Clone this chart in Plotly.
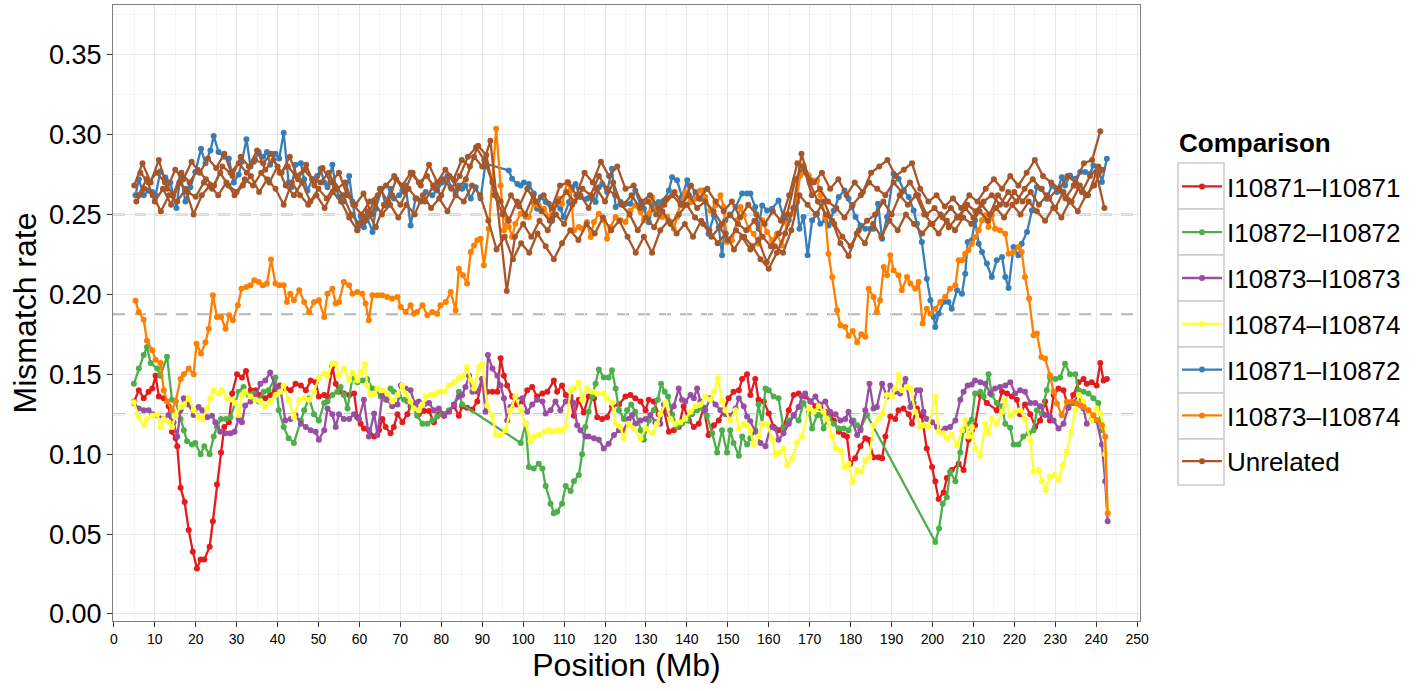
import plotly.graph_objects as go

# ---- Series: position (Mb) and mismatch rate, one pair of lists per comparison ----
red_x = [5.0, 6.1, 7.3, 8.5, 9.4, 10.2, 11.0, 12.2, 13.4, 14.2, 15.1, 15.5, 16.3, 17.3, 18.3, 19.3, 20.3, 21.2, 22.1, 23.4,
         24.2, 25.2, 26.2, 27.0, 28.1, 28.9, 30.1, 31.3, 32.3, 33.4, 34.6, 35.8, 37.0, 38.2, 39.4, 40.6,
         42.0, 43.2, 44.4, 45.7, 46.9, 48.1, 49.3, 50.1, 51.4, 52.2, 53.4, 54.2, 55.0, 56.2, 57.5, 58.7, 59.5, 60.3, 61.1, 62.3,
         63.6, 64.8, 65.6, 66.4, 67.6, 68.4, 69.3, 70.5, 71.7, 72.5, 73.3, 74.5, 75.8, 77.0, 78.2, 79.4, 80.7, 81.9, 83.1, 84.3,
         85.1, 86.3, 87.6, 88.8, 90.0, 91.2, 92.5, 93.7, 94.5, 95.3, 96.1, 97.3, 98.5, 99.8, 101.0, 102.2, 103.4, 104.7, 105.9,
         107.5, 108.3, 109.5, 110.4, 111.6, 112.4, 113.6, 114.8, 116.0, 117.3, 118.1, 119.3, 120.5, 121.7, 123.4,
         125.0, 126.2, 127.4, 128.7, 129.9, 130.7, 131.9, 133.1, 134.4, 135.6, 136.8, 138.0, 139.2, 140.5, 141.7, 142.9, 144.1,
         145.3, 146.6, 147.8, 149.0, 150.2, 151.4, 152.7, 153.5, 154.7, 155.5, 156.7, 157.5, 158.8, 160.0, 161.2, 162.4, 163.6,
         164.9, 166.1,
         167.3, 168.9, 170.2, 171.4, 172.6, 173.8, 175.0, 175.9, 177.1, 178.3, 179.1, 179.9, 181.1, 182.4, 183.6, 184.4, 185.6,
         186.8, 187.7, 188.5, 189.7, 190.9, 191.7, 192.9, 194.2, 195.0, 196.2, 197.4, 198.6, 199.9, 200.7, 201.5, 202.7, 203.5,
         204.7, 206.4, 207.6, 208.8, 209.6,
         210.4, 211.7, 213.3, 215.7, 217.0, 218.2, 219.4, 220.6, 221.4, 222.6, 223.9, 225.1, 226.3, 227.5, 228.7, 229.6, 230.8,
         232.0, 233.2, 234.4, 235.7, 236.9, 237.7, 238.9, 240.1, 241.0, 241.8, 242.6]
red_y = [0.133, 0.140, 0.135, 0.139, 0.141, 0.149, 0.136, 0.135, 0.130, 0.114, 0.110, 0.105, 0.079, 0.070, 0.0525, 0.039, 0.0285, 0.034, 0.034, 0.042,
         0.058, 0.081, 0.101, 0.117, 0.120, 0.138, 0.150, 0.148, 0.152, 0.140, 0.140, 0.137, 0.135, 0.137, 0.140, 0.143,
         0.141, 0.140, 0.144, 0.143, 0.140, 0.146, 0.145, 0.136, 0.137, 0.136, 0.155, 0.144, 0.139, 0.138, 0.137, 0.138, 0.123, 0.119, 0.116, 0.115,
         0.111, 0.115, 0.122, 0.117, 0.113, 0.117, 0.125, 0.120, 0.125, 0.130, 0.132, 0.125, 0.127, 0.127, 0.120, 0.125, 0.124, 0.127, 0.130, 0.124,
         0.130, 0.129, 0.128, 0.133, 0.147, 0.139, 0.139, 0.139, 0.160, 0.149, 0.143, 0.136, 0.131, 0.133, 0.140, 0.142, 0.136, 0.138, 0.139,
         0.146, 0.139, 0.143, 0.137, 0.134, 0.124, 0.134, 0.126, 0.136, 0.135, 0.123, 0.122, 0.123, 0.130, 0.131,
         0.136, 0.137, 0.135, 0.133, 0.1275, 0.134, 0.133, 0.125, 0.1275, 0.114, 0.115, 0.117, 0.130, 0.121, 0.117, 0.119, 0.129,
         0.112, 0.118, 0.121, 0.1275, 0.135, 0.139, 0.140, 0.147, 0.150, 0.137, 0.147, 0.134, 0.133, 0.1255, 0.117, 0.115, 0.117,
         0.1275, 0.137,
         0.138, 0.136, 0.133, 0.130, 0.129, 0.1265, 0.125, 0.121, 0.114, 0.112, 0.111, 0.094, 0.0975, 0.105, 0.110, 0.109, 0.098,
         0.098, 0.0975, 0.111, 0.1235, 0.122, 0.1275, 0.1285, 0.125, 0.119, 0.1285, 0.124, 0.1035, 0.092, 0.083, 0.072, 0.076, 0.085,
         0.090, 0.094, 0.090, 0.109, 0.115,
         0.118, 0.137, 0.132, 0.1275, 0.139, 0.138, 0.136, 0.134, 0.125, 0.131, 0.125, 0.117, 0.121, 0.133, 0.121, 0.137, 0.141,
         0.140, 0.129, 0.137, 0.145, 0.147, 0.144, 0.145, 0.143, 0.157, 0.146, 0.147]

green_x = [4.9, 6.1, 7.3, 8.1, 9.0, 10.6, 11.4, 13.0, 14.2, 15.1, 16.3, 17.1, 17.9, 19.1, 19.9, 21.2, 22.1, 23.4, 24.4, 25.2,
           26.2, 27.4, 28.5, 30.5, 31.7, 33.0, 34.2, 35.4, 36.6, 37.8, 39.5, 40.3, 41.5,
           42.7, 44.0, 45.7, 46.5, 47.7, 48.9, 50.1, 51.4, 52.2, 53.4, 54.6, 55.4, 56.2, 57.1, 58.3, 59.5, 60.7, 61.9, 63.2, 64.0,
           65.2, 66.4, 67.6, 68.4, 69.7, 70.9, 71.7, 72.9, 74.1, 75.4, 76.6, 77.8, 79.0, 80.2, 81.9, 83.1, 84.3,
           85.1, 99.4, 100.6, 101.4, 102.6, 103.8, 104.7, 105.5, 106.7, 107.5, 108.3, 109.5, 110.4, 111.6, 112.4, 113.6, 114.4,
           115.2, 116.0, 116.9, 117.7, 118.5, 119.7, 120.9, 121.7, 122.6, 123.4, 124.6,
           125.4, 126.4, 127.4, 128.7, 129.5, 130.7, 131.9, 132.9, 133.7, 134.6, 135.4, 136.4, 137.6, 138.8, 140.1, 141.3, 142.5,
           143.9, 144.9, 146.2, 147.4, 148.6, 149.8, 150.6, 151.4, 152.7, 153.5, 154.7, 155.5, 156.7, 157.5, 158.4, 159.2, 160.0,
           161.2, 162.4, 163.6, 164.9, 166.1, 167.3,
           168.5, 169.8, 170.6, 171.8, 172.6, 173.4, 174.6, 175.9, 177.1, 178.3, 179.5, 180.7, 181.6, 182.4, 184.0,
           200.7, 201.6, 202.5, 203.5, 204.3, 205.6, 206.8, 207.6, 208.8,
           209.6, 210.4, 211.7, 212.5, 213.7, 214.5, 215.7, 217.0, 217.8, 219.0, 219.8, 221.0, 222.2, 223.5, 224.7, 225.5, 226.7,
           227.9, 228.7, 230.0, 231.2, 232.4, 233.6, 234.9, 235.7, 236.9, 238.1, 239.3, 240.5, 241.4]
green_y = [0.144, 0.1535, 0.162, 0.167, 0.157, 0.1535, 0.149, 0.161, 0.134, 0.133, 0.122, 0.115, 0.108, 0.106, 0.107, 0.100, 0.105, 0.100, 0.111, 0.117,
           0.122, 0.122, 0.123, 0.139, 0.142, 0.137, 0.138, 0.133, 0.139, 0.140, 0.148, 0.1275, 0.117,
           0.110, 0.107, 0.121, 0.1275, 0.135, 0.125, 0.121, 0.132, 0.133, 0.137, 0.139, 0.142, 0.137, 0.1285, 0.148, 0.145, 0.146, 0.147, 0.141, 0.140,
           0.136, 0.134, 0.141, 0.139, 0.136, 0.134, 0.133, 0.130, 0.124, 0.119, 0.119, 0.121, 0.1235, 0.1255, 0.1275, 0.131, 0.139,
           0.131, 0.107, 0.119, 0.092, 0.091, 0.094, 0.091, 0.080, 0.069, 0.063, 0.064, 0.069, 0.080, 0.077, 0.083, 0.087, 0.100,
           0.117, 0.1265, 0.136, 0.144, 0.153, 0.148, 0.148, 0.1525, 0.141, 0.1275, 0.122,
           0.1275, 0.131, 0.1265, 0.115, 0.109, 0.121, 0.1275, 0.134, 0.144, 0.139, 0.136, 0.125, 0.117, 0.119, 0.121, 0.125, 0.1275,
           0.1285, 0.124, 0.113, 0.101, 0.115, 0.101, 0.115, 0.107, 0.099, 0.111, 0.106, 0.110, 0.115, 0.131, 0.119, 0.141, 0.140,
           0.136, 0.135, 0.116, 0.121, 0.124, 0.121,
           0.132, 0.1265, 0.116, 0.1245, 0.1245, 0.116, 0.123, 0.119, 0.116, 0.116, 0.115, 0.121, 0.118, 0.116, 0.1245,
           0.045, 0.0535, 0.069, 0.073, 0.089, 0.083, 0.101, 0.115, 0.119,
           0.1215, 0.138, 0.139, 0.136, 0.150, 0.137, 0.132, 0.130, 0.119, 0.1165, 0.106, 0.106, 0.111, 0.113, 0.115, 0.1275, 0.1255,
           0.140, 0.148, 0.147, 0.148, 0.1565, 0.150, 0.150, 0.140, 0.139, 0.138, 0.135, 0.132, 0.115]

purple_x = [4.9, 6.1, 7.3, 8.5, 9.4, 10.6, 12.2, 13.4, 14.6, 15.5, 16.3, 17.1, 18.3, 19.5, 20.7, 21.6, 22.8, 24.0, 24.8, 26.0,
            27.3, 28.5, 29.5, 30.5, 31.3, 32.1, 33.4, 34.6, 35.8, 37.0, 38.2, 39.5, 40.7, 41.9,
            43.2, 44.4, 45.7, 46.9, 48.1, 49.3, 50.1, 51.4, 52.2, 53.4, 54.2, 55.0, 56.2, 57.5, 58.7, 59.9, 61.1, 62.3, 63.6, 64.4,
            65.6, 66.8, 68.0, 69.3, 70.1, 71.3, 72.5, 73.7, 74.5, 75.8, 77.0, 78.2, 79.4, 80.7, 81.9, 83.1, 84.3,
            85.1, 85.9, 86.8, 87.6, 88.8, 90.0, 90.8, 91.4, 92.5, 93.7, 94.5, 95.3, 96.1, 96.9, 98.1, 99.8, 101.0, 102.2, 103.4,
            104.7, 105.5, 106.7, 107.9, 109.1, 110.4, 111.6, 112.4, 113.2, 114.0, 115.2, 116.0, 117.3, 118.5, 119.7, 120.9, 122.2,
            123.4, 124.6,
            125.8, 126.6, 127.4, 128.7, 129.9, 131.1, 132.3, 133.5, 134.4, 135.6, 136.8, 138.0, 138.8, 139.6, 140.9, 141.7, 142.5,
            143.3, 144.5, 145.7, 147.0, 148.2, 149.4, 150.6, 151.9, 152.7, 153.9, 154.7, 155.5, 156.7, 158.0, 159.2, 160.4, 161.6,
            162.4, 163.6, 164.9, 166.1, 167.3,
            168.1, 168.9, 170.2, 171.4, 172.6, 173.8, 175.0, 176.3, 177.5, 178.7, 179.5, 180.3, 181.6, 182.4, 183.6, 184.6, 185.6,
            186.4, 187.7, 188.9, 189.7, 190.9, 192.1, 193.4, 194.6, 195.4, 196.2, 197.0, 197.8, 198.6, 199.9, 201.1, 202.3, 203.1,
            204.3, 205.6, 206.8, 207.6, 208.6,
            209.6, 210.4, 211.7, 212.9, 214.1, 215.3, 216.5, 217.8, 219.0, 220.2, 221.4, 222.6, 223.9, 225.1, 226.3, 227.5, 228.7,
            229.6, 230.8, 232.0, 233.2, 234.4, 235.7, 236.9, 237.7, 238.9, 240.1, 241.4, 242.2, 242.8]
purple_y = [0.132, 0.1285, 0.1275, 0.1275, 0.125, 0.1245, 0.122, 0.1245, 0.120, 0.111, 0.1275, 0.135, 0.131, 0.1245, 0.1295, 0.1275, 0.123, 0.124, 0.120, 0.114,
            0.113, 0.113, 0.114, 0.122, 0.120, 0.1305, 0.133, 0.136, 0.144, 0.146, 0.151, 0.142, 0.141, 0.121,
            0.122, 0.1245, 0.119, 0.117, 0.115, 0.114, 0.109, 0.115, 0.1285, 0.125, 0.117, 0.125, 0.122, 0.122, 0.125, 0.122, 0.134, 0.111, 0.1255, 0.112,
            0.137, 0.134, 0.130, 0.131, 0.143, 0.141, 0.140, 0.130, 0.133, 0.131, 0.132, 0.1275, 0.1285, 0.124, 0.1265, 0.131, 0.136,
            0.137, 0.142, 0.149, 0.139, 0.139, 0.147, 0.1265, 0.162, 0.1535, 0.149, 0.143, 0.135, 0.121, 0.1295, 0.135, 0.135, 0.1265, 0.131, 0.134,
            0.133, 0.1255, 0.1275, 0.133, 0.1275, 0.133, 0.136, 0.132, 0.118, 0.115, 0.111, 0.111, 0.110, 0.109, 0.1035, 0.1065, 0.112,
            0.115, 0.115,
            0.122, 0.1245, 0.119, 0.121, 0.122, 0.1245, 0.120, 0.119, 0.131, 0.125, 0.130, 0.141, 0.134, 0.133, 0.137, 0.135, 0.141,
            0.133, 0.1275, 0.135, 0.131, 0.1275, 0.125, 0.124, 0.1285, 0.135, 0.130, 0.1235, 0.1205, 0.114, 0.107, 0.105, 0.117, 0.116,
            0.109, 0.113, 0.119, 0.1245, 0.1295,
            0.136, 0.138, 0.133, 0.136, 0.131, 0.133, 0.1265, 0.125, 0.121, 0.122, 0.1265, 0.1205, 0.112, 0.115, 0.1275, 0.144, 0.1285,
            0.1295, 0.144, 0.136, 0.143, 0.139, 0.138, 0.147, 0.1295, 0.132, 0.140, 0.140, 0.1265, 0.122, 0.120, 0.117, 0.114, 0.116,
            0.117, 0.121, 0.134, 0.139, 0.143,
            0.1435, 0.146, 0.145, 0.144, 0.138, 0.141, 0.142, 0.143, 0.145, 0.138, 0.140, 0.139, 0.132, 0.132, 0.130, 0.1245, 0.1235,
            0.121, 0.116, 0.119, 0.1295, 0.132, 0.137, 0.1285, 0.119, 0.122, 0.121, 0.106, 0.083, 0.058]

yellow_x = [4.9, 6.1, 7.3, 8.1, 9.4, 10.6, 11.4, 12.2, 13.4, 14.2, 15.1, 16.3, 17.1, 18.3, 19.5, 20.7, 21.6, 22.8, 23.6, 24.4,
            25.6, 26.4, 27.7, 28.9, 29.7, 30.5, 31.3, 32.1, 33.4, 34.6, 35.8, 37.0, 38.2, 39.5, 40.7, 41.5,
            42.7, 44.0, 45.3, 46.5, 47.7, 48.9, 50.1, 51.4, 52.2, 53.4, 54.2, 55.0, 56.2, 57.5, 58.3, 59.5, 60.3, 61.4, 61.9, 62.7,
            63.6, 64.4, 65.6, 66.8, 68.0, 69.3, 70.5, 71.3, 72.5, 73.3, 74.5, 75.4, 76.2, 77.4, 78.2, 79.4, 80.7, 81.9, 83.1, 84.3,
            85.1, 86.3, 87.2, 88.0, 89.2, 90.0, 91.2, 92.5, 93.3, 94.5, 95.7, 96.9, 98.1, 99.4, 100.6, 101.8, 102.6, 103.8, 105.1,
            106.3, 107.1, 108.3, 109.5, 110.4, 111.6, 112.4, 113.6, 114.4, 115.6, 116.9, 118.1, 119.7, 120.5, 121.7, 122.6, 123.8,
            124.6,
            125.8, 127.0, 128.7, 129.9, 131.5, 132.7, 133.5, 134.8, 136.0, 137.2, 138.4, 139.6, 140.9, 142.1, 143.3, 144.5, 145.7,
            146.6, 147.6, 148.6, 149.4, 150.6, 151.9, 152.7, 153.9, 154.7, 155.5, 156.3, 157.5, 158.4, 159.6, 160.8, 161.6, 162.4,
            163.6, 164.5, 165.7, 166.9,
            168.1, 169.8, 171.0, 172.2, 173.4, 174.2, 175.5, 176.3, 177.5, 178.5, 179.5, 180.5, 181.6, 182.6, 183.6, 184.6, 185.6,
            186.8, 187.8, 188.9, 190.1, 190.9, 191.7, 192.5, 193.8, 194.6, 195.8, 197.0, 197.8, 199.0, 200.7, 201.5, 202.7, 203.5,
            204.7, 206.0, 207.2,
            208.0, 208.8, 209.6, 210.4, 211.7, 212.9, 213.7, 214.5, 215.7, 217.0, 217.8, 219.0, 220.2, 221.4, 222.6, 223.9, 224.7,
            225.9, 226.7, 227.7, 228.7, 229.8, 230.8, 231.8, 232.8, 233.9, 234.9, 235.8, 236.9, 238.1, 238.9, 240.1, 241.0, 241.8,
            242.2, 242.8]
yellow_y = [0.1325, 0.123, 0.118, 0.122, 0.124, 0.125, 0.117, 0.122, 0.120, 0.117, 0.1245, 0.1295, 0.131, 0.135, 0.1275, 0.123, 0.122, 0.1285, 0.135, 0.140,
            0.138, 0.140, 0.135, 0.134, 0.132, 0.1245, 0.137, 0.139, 0.136, 0.134, 0.133, 0.1295, 0.133, 0.137, 0.139, 0.143,
            0.134, 0.123, 0.134, 0.135, 0.134, 0.139, 0.148, 0.1505, 0.149, 0.1565, 0.1565, 0.149, 0.1535, 0.146, 0.151, 0.146, 0.151, 0.1565, 0.143, 0.137,
            0.138, 0.141, 0.140, 0.138, 0.133, 0.137, 0.143, 0.138, 0.133, 0.1285, 0.1275, 0.131, 0.136, 0.137, 0.137, 0.139, 0.139, 0.143, 0.145, 0.1475,
            0.1485, 0.1545, 0.1465, 0.141, 0.1545, 0.1565, 0.1305, 0.124, 0.112, 0.112, 0.115, 0.1275, 0.136, 0.1275, 0.119, 0.108, 0.111, 0.112, 0.114,
            0.115, 0.114, 0.115, 0.115, 0.117, 0.140, 0.141, 0.145, 0.134, 0.141, 0.139, 0.138, 0.138, 0.135, 0.132, 0.119, 0.117,
            0.110,
            0.119, 0.116, 0.110, 0.116, 0.113, 0.119, 0.125, 0.132, 0.122, 0.119, 0.120, 0.122, 0.1265, 0.130, 0.131, 0.136, 0.134,
            0.139, 0.1475, 0.133, 0.1275, 0.121, 0.1275, 0.116, 0.119, 0.118, 0.115, 0.106, 0.111, 0.119, 0.119, 0.110, 0.100, 0.101,
            0.1035, 0.093, 0.097, 0.1075,
            0.111, 0.1285, 0.1265, 0.130, 0.1265, 0.122, 0.111, 0.1035, 0.1025, 0.092, 0.094, 0.0825, 0.090, 0.089, 0.096, 0.098, 0.118,
            0.122, 0.1255, 0.137, 0.136, 0.141, 0.1495, 0.140, 0.142, 0.141, 0.1265, 0.117, 0.118, 0.1175, 0.136, 0.114, 0.113, 0.110,
            0.112, 0.1055, 0.115,
            0.1215, 0.111, 0.117, 0.1035, 0.099, 0.119, 0.113, 0.122, 0.119, 0.1265, 0.134, 0.124, 0.1265, 0.1275, 0.122, 0.1085, 0.089,
            0.090, 0.083, 0.0775, 0.086, 0.087, 0.084, 0.093, 0.1015, 0.114, 0.1275, 0.137, 0.133, 0.1275, 0.121, 0.1285, 0.1255, 0.117,
            0.100, 0.064]

blue_x = [5.3, 6.1, 7.3, 8.5, 9.4, 10.2, 11.4, 12.6, 13.8, 15.3, 16.3, 17.5, 18.7, 19.9, 21.3, 22.4, 23.6, 24.4, 25.6, 26.9,
          28.1, 29.3, 30.5, 31.3, 32.4, 33.4, 34.2, 35.4, 36.5, 37.4, 38.2, 39.5, 40.4, 41.5, 42.7, 43.4,
          44.4, 45.7, 46.5, 47.3, 48.5, 49.7, 50.5, 51.4, 52.2, 53.4, 54.2, 55.0, 56.2, 57.5, 58.3, 59.5, 60.3, 61.1, 61.9, 63.2,
          64.0, 65.4, 66.4, 67.6, 68.4, 69.7, 70.5, 71.3, 72.5, 73.7, 75.0, 76.2, 77.8, 79.0, 80.2, 81.5, 82.3, 83.5, 84.3,
          85.1, 85.9, 87.2, 88.4, 89.6, 90.8, 96.5, 97.3, 98.6, 99.4, 100.2, 101.4, 102.6, 103.4, 104.3, 105.5, 106.3, 107.1,
          107.9, 109.1, 109.9, 111.2, 112.0, 112.8, 114.0, 115.6, 116.9, 117.7, 118.5, 119.3, 120.5, 121.7, 122.6, 123.8, 125.0,
          126.2, 127.4, 128.7, 129.5, 130.7, 131.9, 133.1, 134.4, 135.6, 136.4, 137.6, 138.8, 140.1, 140.9, 142.1, 143.3, 144.1,
          145.3, 146.6, 147.8, 148.6, 149.4, 150.6, 151.9, 153.5, 154.7, 155.5, 156.7, 157.5, 158.4, 159.6, 160.8, 162.4, 163.6,
          164.9, 166.1, 166.9,
          167.5, 168.5, 169.5, 170.6, 171.8, 172.6, 173.8, 174.6, 175.9, 177.1, 178.5, 179.5, 180.3, 181.2, 182.4, 183.6, 184.8,
          185.6, 186.7, 187.7, 188.9, 190.5, 191.7, 193.0, 194.2, 195.4, 196.2, 197.4, 198.6, 199.5, 200.3, 200.7, 201.5, 202.7,
          203.9, 204.7, 206.0, 207.2, 208.0, 208.6,
          209.6, 210.4, 211.3, 212.1, 213.3, 214.5, 215.7, 217.0, 217.8, 218.6, 219.8, 221.0, 221.8, 223.1, 224.3, 225.5, 226.7,
          227.9, 229.2, 230.4, 231.6, 232.4, 233.6, 234.9, 236.1, 237.3, 238.5, 239.3, 240.5, 241.4, 242.6]
blue_y = [0.262, 0.272, 0.262, 0.265, 0.264, 0.262, 0.277, 0.273, 0.270, 0.254, 0.275, 0.258, 0.267, 0.2765, 0.291, 0.282, 0.290, 0.299, 0.289, 0.286,
          0.285, 0.270, 0.275, 0.283, 0.297, 0.280, 0.283, 0.289, 0.286, 0.289, 0.281, 0.288, 0.285, 0.301, 0.270, 0.267,
          0.281, 0.282, 0.272, 0.265, 0.272, 0.274, 0.2785, 0.270, 0.267, 0.281, 0.267, 0.261, 0.258, 0.274, 0.258, 0.240, 0.249, 0.242, 0.248, 0.239,
          0.2535, 0.266, 0.2556, 0.266, 0.260, 0.262, 0.265, 0.268, 0.243, 0.260, 0.258, 0.264, 0.262, 0.265, 0.270, 0.274, 0.267, 0.264, 0.268,
          0.266, 0.268, 0.260, 0.267, 0.260, 0.2817, 0.2775, 0.2723, 0.269, 0.268, 0.270, 0.269, 0.263, 0.2535, 0.2608, 0.2577, 0.2567, 0.246,
          0.2567, 0.2535, 0.2483, 0.2577, 0.267, 0.269, 0.2608, 0.2598, 0.2598, 0.2577, 0.267, 0.269, 0.264, 0.2785, 0.2546, 0.2577, 0.2567,
          0.2567, 0.265, 0.2556, 0.2535, 0.245, 0.2567, 0.2577, 0.2587, 0.265, 0.2733, 0.2713, 0.2608, 0.2713, 0.2577, 0.264, 0.2598, 0.265,
          0.2379, 0.2494, 0.242, 0.2244, 0.2463, 0.2494, 0.2546, 0.263, 0.263, 0.263, 0.2546, 0.241, 0.2556, 0.2525, 0.2535, 0.2587, 0.2483,
          0.2463, 0.2535, 0.2577,
          0.241, 0.2483, 0.2244, 0.2463, 0.2504, 0.2442, 0.2463, 0.2431, 0.2525, 0.2608, 0.265, 0.2598, 0.2546, 0.2483, 0.2431, 0.241, 0.241,
          0.241, 0.2567, 0.2348, 0.2483, 0.2754, 0.2723, 0.265, 0.2608, 0.2525, 0.2442, 0.2327, 0.2098, 0.1962, 0.1858, 0.1796, 0.188, 0.1952,
          0.1952, 0.191, 0.2025, 0.2004, 0.2129, 0.2327,
          0.2338, 0.2463, 0.2317, 0.2265, 0.2192, 0.2108, 0.2213, 0.2233, 0.2108, 0.204, 0.2296, 0.2244, 0.2317, 0.239, 0.2525, 0.2671, 0.2661,
          0.2598, 0.2681, 0.264, 0.2733, 0.2681, 0.2744, 0.2723, 0.2765, 0.2765, 0.2754, 0.2806, 0.2796, 0.2702, 0.2848]

orange_x = [5.3, 6.1, 7.3, 8.1, 9.4, 10.2, 11.4, 12.2, 13.0, 14.2, 15.1, 16.3, 17.1, 18.3, 19.5, 20.2, 21.3, 22.4, 23.2, 24.2,
            25.2, 26.2, 27.3, 28.2, 29.1, 30.3, 31.2, 32.4, 33.4, 34.3, 35.4, 36.4, 37.4, 38.4, 39.5, 40.4, 41.5, 42.3,
            43.1, 44.0, 45.3, 46.5, 47.7, 48.9, 50.1, 51.4, 52.2, 53.4, 54.2, 55.0, 56.2, 57.5, 58.3, 59.5, 60.7, 61.5, 62.3, 63.2,
            64.4, 65.6, 66.8, 68.0, 69.3, 70.1, 71.3, 72.5, 73.3, 74.1, 75.4, 76.6, 77.8, 79.0, 79.8, 81.1, 82.3, 83.5,
            84.3, 85.3, 86.3, 87.2, 88.0, 88.8, 89.6, 90.4, 91.6, 92.5, 93.4, 94.5, 95.3, 96.1, 96.5, 97.3, 98.1, 99.4, 100.6,
            101.4, 102.6, 103.8, 105.1, 106.3, 107.5, 108.7, 109.5, 110.8, 111.6, 112.4, 113.6, 114.4, 115.6, 116.5, 117.3, 118.5,
            119.7, 120.5, 121.3, 122.6, 123.8, 125.0,
            126.2, 127.4, 128.7, 129.5, 130.7, 131.5, 132.7, 134.0, 135.2, 136.0, 136.8, 137.6, 138.4, 139.6, 140.9, 142.1, 143.3,
            144.5, 145.7, 147.0, 148.2, 149.0, 149.8, 151.0, 152.3, 153.1, 153.9, 155.1, 156.3, 157.5, 158.4, 159.6, 160.8, 162.0,
            163.2, 164.5, 165.7, 166.9,
            167.7, 168.5, 169.8, 170.6, 171.8, 172.6, 173.8, 174.6, 175.5, 176.7, 177.5, 178.7, 179.5, 180.5, 181.6, 182.6, 183.6,
            184.4, 185.6, 186.4, 187.2, 188.1, 188.9, 189.7, 190.5, 191.7, 192.5, 193.8, 194.6, 195.8, 196.6, 197.6, 198.6, 199.5,
            200.7, 201.9, 203.1, 204.3, 205.6, 206.4, 207.2, 208.0,
            208.8, 209.6, 210.4, 211.3, 212.1, 212.9, 213.7, 214.5, 215.3, 216.5, 217.8, 218.6, 219.8, 221.0, 221.8, 222.6, 223.6,
            224.7, 225.5, 226.6, 227.5, 228.7, 229.6, 230.4, 231.6, 232.8, 234.0, 235.3, 236.1, 236.9, 238.1, 239.3, 240.1, 241.4,
            242.2, 242.8]
orange_y = [0.196, 0.189, 0.184, 0.171, 0.165, 0.159, 0.157, 0.140, 0.133, 0.1275, 0.133, 0.147, 0.150, 0.1535, 0.150, 0.169, 0.163, 0.170, 0.1785, 0.1994,
            0.1858, 0.1858, 0.1785, 0.1869, 0.1838, 0.1931, 0.2035, 0.2046, 0.2056, 0.2088, 0.2077, 0.2056, 0.2067, 0.2217, 0.2067, 0.2056, 0.2056, 0.1952,
            0.2004, 0.1962, 0.2025, 0.1952, 0.189, 0.1952, 0.1962, 0.1858, 0.2004, 0.2035, 0.1942, 0.1952, 0.2077, 0.2056, 0.2004, 0.2015, 0.2004, 0.1942, 0.1838, 0.1994,
            0.1994, 0.1994, 0.1983, 0.1973, 0.1983, 0.1921, 0.189, 0.1931, 0.1879, 0.189, 0.1931, 0.1869, 0.189, 0.1879, 0.1931, 0.1952, 0.2015, 0.190,
            0.216, 0.2119, 0.2067, 0.2265, 0.2306, 0.2338, 0.2348, 0.2181, 0.241, 0.2713, 0.3035, 0.2681, 0.240, 0.2473, 0.2421, 0.2358, 0.2442, 0.2504, 0.2483,
            0.2483, 0.2567, 0.2556, 0.2535, 0.2483, 0.2556, 0.2598, 0.2567, 0.2702, 0.265, 0.240, 0.2421, 0.241, 0.2452, 0.2358, 0.2452, 0.2504,
            0.2463, 0.2348, 0.2421, 0.2483, 0.2463, 0.2452,
            0.2525, 0.2556, 0.2515, 0.2463, 0.2504, 0.2608, 0.2535, 0.2483, 0.2483, 0.2452, 0.241, 0.2483, 0.2567, 0.264, 0.2577, 0.2598, 0.265,
            0.2608, 0.2525, 0.2556, 0.2619, 0.2546, 0.2327, 0.2338, 0.2463, 0.2546, 0.2494, 0.241, 0.2379, 0.2317, 0.2463, 0.239, 0.2338, 0.2379,
            0.2306, 0.2442, 0.2504, 0.2608,
            0.2744, 0.2806, 0.2744, 0.2713, 0.2713, 0.2619, 0.2483, 0.2254, 0.2108, 0.190, 0.1806, 0.1796, 0.174, 0.177, 0.170, 0.175, 0.1735,
            0.2035, 0.1983, 0.189, 0.1962, 0.2171, 0.2119, 0.2244, 0.215, 0.2119, 0.2025, 0.2108, 0.2067, 0.2035, 0.2077, 0.1817, 0.191, 0.1879,
            0.191, 0.1952, 0.1983, 0.2035, 0.2056, 0.2213, 0.2213, 0.2254,
            0.2275, 0.2317, 0.2358, 0.240, 0.2463, 0.2494, 0.2421, 0.2494, 0.241, 0.240, 0.2379, 0.2254, 0.2265, 0.2296, 0.2265, 0.2108, 0.1973,
            0.1744, 0.1754, 0.1608, 0.1598, 0.1494, 0.139, 0.1317, 0.1244, 0.1327, 0.1327, 0.1317, 0.1306, 0.1296, 0.1275, 0.1244, 0.1213, 0.1181,
            0.1108, 0.0629]

# Unrelated pairs: four comparisons sampled on 2-Mb windows with staggered starts
# (None marks a window without data; the line is joined across it)
unrel_start = [5.0, 6.0, 5.5, 6.5]
unrel_a = [0.268, 0.282, 0.270, 0.284, 0.266, 0.278, 0.272, 0.283, 0.276, 0.285, 0.279, 0.288, 0.274, 0.286, 0.280, 0.290,
           0.278, 0.284, 0.276, 0.286, 0.272, 0.281, 0.268, 0.279, 0.270, 0.276, 0.262, 0.256, 0.263, 0.250, 0.266, 0.258,
           0.272, 0.264, 0.276, 0.268, 0.281, 0.270, 0.278, 0.272, 0.284, 0.280, 0.293, 0.287, 0.262, 0.250, 0.262, 0.255,
           0.266, 0.258, 0.262, 0.254, 0.268, 0.270, 0.262, 0.276, 0.270, 0.283, 0.274, 0.280, 0.266, 0.268, 0.258, 0.262,
           0.254, 0.260, 0.264, 0.256, 0.268, 0.260, 0.266, 0.258, 0.252, 0.258, 0.248, 0.256, 0.250, 0.244, 0.252, 0.246,
           0.262, 0.282, 0.276, 0.270, 0.276, 0.266, 0.272, 0.262, 0.270, 0.264, 0.276, 0.280, 0.284, 0.274, 0.278, 0.282,
           0.266, 0.258, 0.262, 0.255, 0.260, 0.254, 0.262, 0.258, 0.266, 0.272, 0.266, 0.274, 0.268, 0.276, 0.284, 0.274,
           0.270, 0.266, 0.274, 0.270, 0.282, 0.284, 0.302]
unrel_b = [0.262, 0.272, 0.258, 0.266, 0.256, 0.270, 0.264, 0.261, 0.270, 0.266, 0.276, 0.268, 0.264, 0.272, 0.268, 0.276,
           0.270, 0.280, 0.268, 0.262, 0.270, 0.258, 0.266, 0.260, 0.268, 0.262, 0.250, 0.244, 0.252, 0.242, 0.256, 0.262,
           0.256, 0.266, 0.260, 0.258, 0.268, 0.262, 0.274, 0.266, 0.272, 0.286, 0.280, 0.296, None, 0.202, 0.236, 0.244,
           0.236, 0.246, 0.240, 0.250, 0.244, 0.256, 0.262, 0.254, 0.266, 0.258, 0.270, 0.256, 0.250, 0.240, 0.248, 0.242,
           0.252, 0.244, 0.250, 0.256, 0.248, 0.244, 0.236, 0.242, 0.234, 0.240, 0.236, 0.230, 0.222, 0.216, 0.226, 0.238,
           0.254, 0.288, 0.270, 0.258, 0.250, 0.244, 0.236, 0.230, 0.240, 0.246, 0.250, 0.258, 0.250, 0.262, 0.256, 0.262,
           0.250, 0.244, 0.250, 0.242, 0.248, 0.254, 0.248, 0.256, 0.250, 0.262, 0.256, 0.264, 0.258, 0.264, 0.256, 0.262,
           0.254, 0.264, 0.258, 0.268, 0.262, 0.276, 0.254]
unrel_c = [0.258, 0.266, 0.262, 0.252, 0.262, 0.258, 0.266, 0.250, 0.262, 0.268, 0.262, 0.270, 0.262, 0.268, 0.274, 0.264,
           0.272, 0.266, 0.256, 0.270, 0.262, 0.256, 0.262, 0.254, 0.264, 0.258, 0.248, 0.240, 0.246, 0.258, 0.250, 0.256,
           0.248, 0.256, 0.250, 0.262, 0.254, 0.260, 0.252, 0.262, 0.258, 0.268, 0.262, 0.246, 0.228, 0.236, 0.222, 0.232,
           0.226, 0.238, 0.230, 0.222, 0.232, 0.240, 0.234, 0.244, 0.238, 0.248, 0.240, 0.246, 0.236, 0.226, 0.236, 0.226,
           0.240, 0.246, 0.238, 0.244, 0.236, 0.246, 0.240, 0.232, 0.238, 0.228, 0.236, 0.228, 0.234, 0.220, 0.230, 0.226,
           0.240, 0.262, 0.256, 0.250, 0.258, 0.246, 0.232, 0.224, 0.238, 0.232, 0.244, 0.236, 0.246, 0.240, 0.250, 0.244,
           0.238, 0.244, 0.238, 0.246, 0.240, 0.248, 0.244, 0.252, 0.246, 0.254, 0.248, 0.256, 0.250, 0.258, 0.252, 0.246,
           0.254, 0.248, 0.258, 0.252, 0.262, 0.268, 0.278]
unrel_d = [0.276, 0.270, 0.276, 0.270, 0.262, 0.276, 0.270, 0.278, 0.272, 0.268, 0.280, 0.276, 0.282, 0.276, 0.284, 0.282,
           0.288, 0.276, 0.280, 0.274, 0.278, 0.272, 0.270, 0.276, 0.266, 0.270, 0.256, 0.250, 0.258, 0.262, 0.268, 0.274,
           0.268, 0.276, 0.270, 0.274, 0.266, 0.272, 0.266, 0.274, 0.286, 0.292, 0.284, 0.270, 0.258, 0.246, 0.258, 0.250,
           0.262, 0.252, 0.246, 0.258, 0.264, 0.258, 0.266, 0.262, 0.274, 0.266, 0.262, 0.256, 0.262, 0.254, 0.258, 0.250,
           0.256, 0.262, 0.256, 0.262, 0.254, 0.258, 0.252, 0.244, 0.250, 0.244, 0.240, 0.246, 0.236, 0.230, 0.238, 0.250,
           0.272, 0.280, 0.262, 0.266, 0.258, 0.254, 0.248, 0.256, 0.262, 0.270, 0.266, 0.262, 0.270, 0.264, 0.270, 0.262,
           0.250, 0.254, 0.248, 0.254, 0.248, 0.256, 0.252, 0.258, 0.262, 0.256, 0.264, 0.258, 0.266, 0.272, 0.266, 0.260,
           0.266, 0.260, 0.268, 0.264, 0.274, 0.280]
unrelated = [unrel_a, unrel_b, unrel_c, unrel_d]

# Reference levels drawn as dashed horizontal lines
ref_levels = [0.125, 0.1875, 0.25]

x_ticks = list(range(0, 251, 10))
y_ticks = [0.00, 0.05, 0.10, 0.15, 0.20, 0.25, 0.30, 0.35]

series = [
    ("I10871\u2013I10871", red_x, red_y, "#E41A1C"),
    ("I10872\u2013I10872", green_x, green_y, "#4DAF4A"),
    ("I10873\u2013I10873", purple_x, purple_y, "#984EA3"),
    ("I10874\u2013I10874", yellow_x, yellow_y, "#FFFF33"),
    ("I10871\u2013I10872", blue_x, blue_y, "#377EB8"),
    ("I10873\u2013I10874", orange_x, orange_y, "#FF7F00"),
]
brown = "#A65628"

# plot-area geometry in pixels (used to place legend decorations in paper units)
L, T, W, H = 113, 5, 1027, 616


def px_x(px):
    return (px - L) / W


def px_y(py):
    return 1 - (py - T) / H


fig = go.Figure()
for name, xs, ys, col in series:
    assert len(xs) == len(ys), name
    fig.add_trace(go.Scatter(
        x=xs, y=ys, name=name, mode="lines+markers", legendgroup=name,
        line=dict(color=col, width=2.3), marker=dict(color=col, size=6),
    ))

for i, (start, vals) in enumerate(zip(unrel_start, unrelated)):
    xs = [start + 2 * k for k in range(len(vals))]
    fig.add_trace(go.Scatter(
        x=xs, y=vals, name="Unrelated", mode="lines+markers", legendgroup="Unrelated",
        showlegend=(i == 0), connectgaps=True,
        line=dict(color=brown, width=2.3), marker=dict(color=brown, size=6),
    ))

for lv in ref_levels:
    fig.add_shape(type="line", xref="paper", x0=0, x1=1, yref="y", y0=lv, y1=lv,
                  line=dict(color="#b5b5b5", width=2, dash="12px,9px"), layer="between")

# legend key boxes
key_top = 163
for k in range(7):
    fig.add_shape(type="rect", xref="paper", yref="paper",
                  x0=px_x(1178), x1=px_x(1224),
                  y0=px_y(key_top + 46 * (k + 1)), y1=px_y(key_top + 46 * k),
                  line=dict(color="#cccccc", width=1.5), fillcolor="white", layer="below")

fig.add_annotation(text="<b>Comparison</b>", xref="paper", yref="paper",
                   x=px_x(1177), y=px_y(143), xanchor="left", yanchor="middle",
                   showarrow=False, font=dict(size=26, color="#000000"))

fig.update_layout(
    width=1428, height=691,
    margin=dict(l=L, r=1428 - L - W, t=T, b=691 - T - H),
    plot_bgcolor="white", paper_bgcolor="white",
    font=dict(family="Liberation Sans, Arial, sans-serif", color="#000000"),
    showlegend=True,
    legend=dict(
        x=px_x(1177), xanchor="left", y=px_y(163), yanchor="top",
        bgcolor="rgba(0,0,0,0)", font=dict(size=26),
        tracegroupgap=9, itemwidth=40,
    ),
    xaxis=dict(
        range=[-0.2, 250.7], tickvals=x_ticks, ticks="outside", ticklen=5, tickcolor="#333333",
        tickfont=dict(size=14, color="#000000"),
        showgrid=True, gridcolor="#e6e6e6", gridwidth=1,
        minor=dict(dtick=5, tick0=0, showgrid=True, gridcolor="#f4f4f4", gridwidth=1),
        showline=True, mirror=True, linecolor="#7f7f7f", linewidth=1.2, zeroline=False,
        title=dict(text="Position (Mb)", font=dict(size=32), standoff=4),
    ),
    yaxis=dict(
        range=[-0.0044, 0.381], tickvals=y_ticks, tickformat=".2f", ticks="outside", ticklen=5,
        tickcolor="#333333", tickfont=dict(size=27, color="#000000"),
        showgrid=True, gridcolor="#e6e6e6", gridwidth=1,
        minor=dict(dtick=0.025, tick0=0, showgrid=True, gridcolor="#f4f4f4", gridwidth=1),
        showline=True, mirror=True, linecolor="#7f7f7f", linewidth=1.2, zeroline=False,
        title=dict(text="Mismatch rate", font=dict(size=32), standoff=2),
    ),
)

fig.write_html("out.html")
